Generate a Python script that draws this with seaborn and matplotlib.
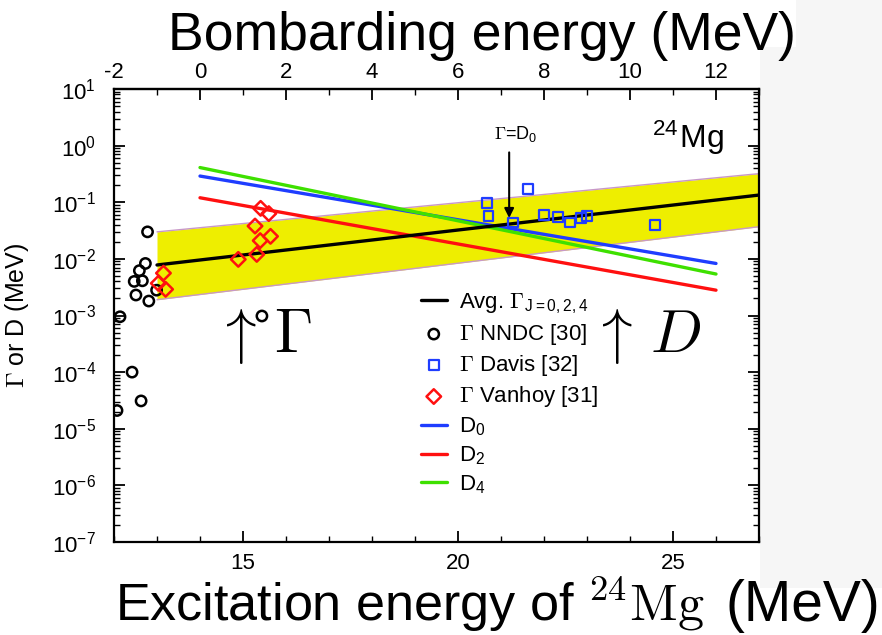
import numpy as np
import matplotlib
matplotlib.use('Agg')
import matplotlib.pyplot as plt
import matplotlib.ticker as mticker
from matplotlib.patches import Rectangle
import seaborn as sns

# excitation energy of 24Mg (MeV) and widths / spacings (MeV)
nndc_ex = [12.07, 12.14, 12.42, 12.47, 12.51, 12.59, 12.63, 12.66, 12.73, 12.78, 12.81, 12.99, 15.44]
nndc_w = [2.1e-5, 9.5e-4, 1.0e-4, 4.0e-3, 2.3e-3, 6.2e-3, 3.1e-5, 4.1e-3, 8.3e-3, 3.0e-2, 1.8e-3, 2.8e-3, 9.8e-4]

davis_ex = [20.67, 20.71, 21.27, 21.62, 22.00, 22.32, 22.60, 22.87, 23.00, 24.58]
davis_w = [0.098, 0.058, 0.044, 0.17, 0.059, 0.054, 0.044, 0.052, 0.057, 0.040]

vanhoy_ex = [13.03, 13.15, 13.20, 14.89, 15.28, 15.32, 15.40, 15.41, 15.60, 15.64]
vanhoy_w = [3.7e-3, 5.6e-3, 2.9e-3, 9.8e-3, 3.8e-2, 1.2e-2, 2.1e-2, 7.8e-2, 6.3e-2, 2.5e-2]

avg_ex = [13.0, 27.0]
avg_w = [0.0078, 0.134]
band_lo = [0.0019, 0.037]
band_hi = [0.030, 0.32]

d_ex = [14.0, 26.0]
d0 = [0.29, 0.0083]
d2 = [0.12, 0.0028]
d4 = [0.41, 0.0054]

W, H = 882, 635

sns.set_theme(style='ticks')
plt.rcParams['font.family'] = ['Liberation Sans', 'DejaVu Sans']
plt.rcParams['mathtext.fontset'] = 'cm'
plt.rcParams['axes.unicode_minus'] = False
plt.rcParams['text.color'] = 'black'
plt.rcParams['axes.labelcolor'] = 'black'


def fx(x):
    return x / W


def fy(y):
    return 1 - y / H


fig = plt.figure(figsize=(W / 100, H / 100), dpi=100, facecolor='white')
# light grey margin to the right of the pasted figure
fig.patches.append(Rectangle((fx(760), fy(588)), fx(122), 541 / H, transform=fig.transFigure,
                             facecolor='#f6f6f6', edgecolor='none', zorder=-10))
fig.patches.append(Rectangle((fx(796), fy(47)), fx(86), 47 / H, transform=fig.transFigure,
                             facecolor='#f6f6f6', edgecolor='none', zorder=-10))

ax = fig.add_axes([fx(114), fy(542), 645 / W, 453 / H])
ax.set_facecolor('white')

ax.fill_between(avg_ex, band_lo, band_hi, color='#eeee00', lw=0, zorder=1)
sns.lineplot(x=avg_ex, y=band_lo, color='#c898c8', lw=1, ax=ax, zorder=2)
sns.lineplot(x=avg_ex, y=band_hi, color='#c898c8', lw=1, ax=ax, zorder=2)

sns.lineplot(x=d_ex, y=d0, color='#1f3dff', lw=2.4, ax=ax, label='$\\mathdefault{D_{0}}$', zorder=3)
sns.lineplot(x=d_ex, y=d2, color='#ff1010', lw=2.4, ax=ax, label='$\\mathdefault{D_{2}}$', zorder=3)
sns.lineplot(x=d_ex, y=d4, color='#3ee000', lw=2.4, ax=ax, label='$\\mathdefault{D_{4}}$', zorder=3)
sns.lineplot(x=avg_ex, y=avg_w, color='black', lw=2.4, ax=ax,
             label='Avg. $\\Gamma_{\\mathdefault{J=0,2,4}}$', zorder=4)

sns.scatterplot(x=nndc_ex, y=nndc_w, marker='o', s=55, facecolor='none', edgecolor='black',
                linewidth=1.8, ax=ax, label='$\\Gamma$ NNDC [30]', zorder=5)
sns.scatterplot(x=davis_ex, y=davis_w, marker='s', s=50, facecolor='none', edgecolor='#1f3dff',
                linewidth=1.6, ax=ax, label='$\\Gamma$ Davis [32]', zorder=5)
sns.scatterplot(x=vanhoy_ex, y=vanhoy_w, marker='D', s=55, facecolor='none', edgecolor='#ff1010',
                linewidth=1.8, ax=ax, label='$\\Gamma$ Vanhoy [31]', zorder=5)

ax.set_yscale('log')
ax.set_xlim(12, 27)
ax.set_ylim(1e-7, 10)
ax.xaxis.set_major_locator(mticker.MultipleLocator(5))
ax.xaxis.set_minor_locator(mticker.MultipleLocator(1))
ax.yaxis.set_major_locator(mticker.LogLocator(base=10, numticks=20))
ax.yaxis.set_minor_locator(mticker.LogLocator(base=10, subs=np.arange(2, 10), numticks=20))
ax.yaxis.set_minor_formatter(mticker.NullFormatter())
ax.tick_params(which='both', direction='in', top=False, right=True, colors='black', labelsize=16)
ax.tick_params(which='major', length=8, width=1.3)
ax.tick_params(which='minor', length=4, width=1.0)
ax.tick_params(axis='y', which='both', pad=13)
ax.tick_params(axis='x', which='both', pad=8)
for sp in ax.spines.values():
    sp.set_linewidth(1.6)
    sp.set_color('black')

ax.set_ylabel('$\\Gamma$ or D (MeV)', fontsize=18, color='black')
ax.yaxis.set_label_coords(-0.128, 0.5)
ax.set_xlabel('')

secax = ax.secondary_xaxis('top', functions=(lambda e: e - 14, lambda e: e + 14))
secax.xaxis.set_major_locator(mticker.MultipleLocator(2))
secax.xaxis.set_minor_locator(mticker.MultipleLocator(1))
secax.tick_params(which='both', direction='in', labelsize=16, pad=4, colors='black')
secax.tick_params(which='major', length=8, width=1.3)
secax.tick_params(which='minor', length=4, width=1.0)
secax.spines['top'].set_linewidth(1.6)

# legend in the reference order
handles, labels = ax.get_legend_handles_labels()
order = ['Avg. $\\Gamma_{\\mathdefault{J=0,2,4}}$', '$\\Gamma$ NNDC [30]', '$\\Gamma$ Davis [32]',
         '$\\Gamma$ Vanhoy [31]', '$\\mathdefault{D_{0}}$', '$\\mathdefault{D_{2}}$', '$\\mathdefault{D_{4}}$']
hmap = dict(zip(labels, handles))
ax.legend([hmap[k] for k in order], order, loc='upper left', bbox_to_anchor=(fx(421), fy(291)),
          bbox_transform=fig.transFigure, frameon=False, fontsize=16, borderpad=0,
          borderaxespad=0, labelspacing=0.28, handlelength=1.15, handletextpad=0.55,
          scatterpoints=1)

# annotations inside the axes
ax.annotate('', xy=(21.19, 0.047), xytext=(21.19, 0.85),
            arrowprops=dict(arrowstyle='-|>', color='black', lw=1.5, mutation_scale=14))
ax.text(21.35, 1.05, '$\\Gamma$=$\\mathdefault{D_{0}}$', fontsize=13, ha='center', va='bottom')
ax.text(0.946, 0.870, '$^{\\mathdefault{24}}\\mathdefault{Mg}$', transform=ax.transAxes,
        fontsize=23, ha='right', va='baseline')

# overlaid captions
fig.text(fx(482), fy(50), 'Bombarding energy (MeV)', fontsize=38.5, ha='center', va='baseline')
fig.text(fx(115), fy(621), 'Excitation energy of $^{24}\\mathrm{Mg}$', fontsize=37.5,
         ha='left', va='baseline')
fig.text(fx(880), fy(621), '(MeV)', fontsize=41, ha='right', va='baseline')
fig.text(fx(236), fy(352), '$\\uparrow$', fontsize=44, ha='center', va='baseline')
fig.text(fx(293), fy(352), '$\\Gamma$', fontsize=44, ha='center', va='baseline')
fig.text(fx(612), fy(352), '$\\uparrow$', fontsize=44, ha='center', va='baseline')
fig.text(fx(676), fy(352), '$D$', fontsize=44, ha='center', va='baseline')

fig.savefig('out.png', dpi=100, facecolor=fig.get_facecolor())
